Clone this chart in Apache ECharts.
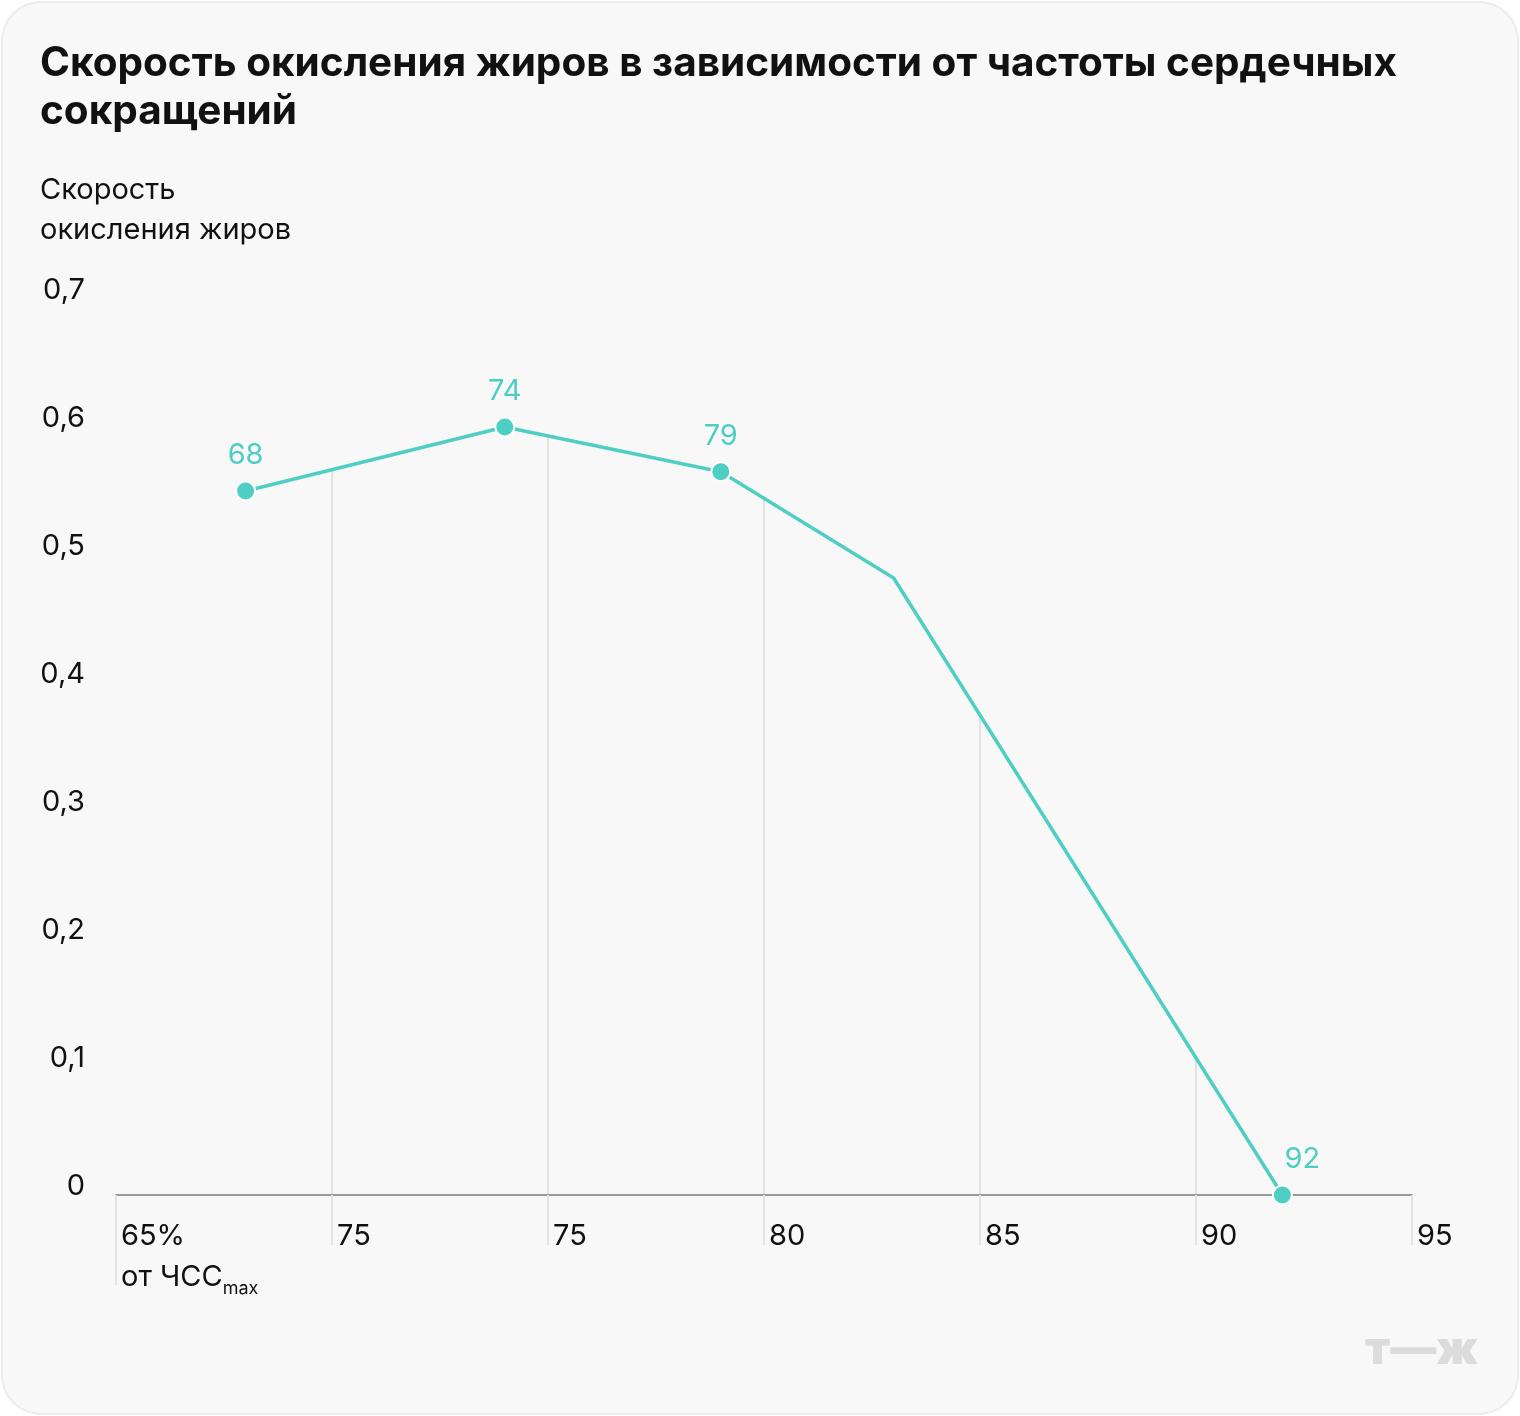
<!DOCTYPE html>
<html>
<head>
<meta charset="utf-8">
<script src="https://cdn.jsdelivr.net/npm/echarts@6/dist/echarts.min.js"></script>
<style>
  html, body { margin: 0; padding: 0; background: #ffffff; }
  #card {
    position: absolute; left: 1px; top: 1px; width: 1514px; height: 1410px;
    background: #f8f8f8; border: 2px solid #ececec; border-radius: 40px;
  }
  #chart { position: absolute; left: 0; top: 0; width: 1520px; height: 1416px; }
</style>
</head>
<body>
<div id="card"></div>
<div id="chart"></div>
<script>
// ---- data ----
const heartRate = [68, 74, 79, 83, 92];            // % of max heart rate
const fatOxidation = [0.55, 0.6, 0.565, 0.482, 0]; // fat oxidation rate
const pointMarked = [true, true, true, false, true];
const xTickLabels = ['65%', '75', '75', '80', '85', '90', '95'];
const xMin = 65, xMax = 95, xStep = 5;
const yMin = 0, yMax = 0.7, yStep = 0.1;
const titleText = 'Скорость окисления жиров в зависимости от частоты сердечных\nсокращений';
const yAxisTitle = 'Скорость\nокисления жиров';
const xAxisSubtitle = 'от ЧСС';
const xAxisSub = 'max';

const FONT = 'Inter, Roboto, "Noto Sans", sans-serif';
const TEAL = '#4fcec4';
const BG = '#f8f8f8';

const seriesData = heartRate.map((x, i) => {
  const item = { value: [x, fatOxidation[i]] };
  if (!pointMarked[i]) {
    item.symbol = 'none';
    item.label = { show: false };
  } else if (i === heartRate.length - 1) {
    item.label = { offset: [20, 0] };
  }
  return item;
});

const chart = echarts.init(document.getElementById('chart'), null, { renderer: 'canvas' });
chart.setOption({
  backgroundColor: 'transparent',
  animation: false,
  textStyle: { fontFamily: FONT },
  title: [
    {
      text: titleText, left: 40, top: 40, padding: 0,
      textStyle: { fontFamily: FONT, fontSize: 40.5, fontWeight: 'bold', color: '#111', lineHeight: 48 }
    },
    {
      text: yAxisTitle, left: 40, top: 170, padding: 0,
      textStyle: { fontFamily: FONT, fontSize: 29, fontWeight: 'normal', color: '#111', lineHeight: 40 }
    }
  ],
  grid: { left: 116, right: 108, top: 299, bottom: 221, containLabel: false },
  xAxis: [
    {
      type: 'value', min: xMin, max: xMax, interval: xStep,
      axisLine: { show: true, lineStyle: { color: '#999', width: 2 } },
      axisTick: { show: true, inside: false, length: 50, lineStyle: { color: '#e2e2e2', width: 2 } },
      splitLine: { show: true, showMinLine: false, showMaxLine: false, lineStyle: { color: '#e2e2e2', width: 2 } },
      axisLabel: {
        show: true, margin: 25, align: 'left', verticalAlign: 'top',
        padding: [0, 0, 0, 5],
        color: '#111', fontFamily: FONT, fontSize: 29, lineHeight: 32,
        showMinLabel: true, showMaxLabel: true,
        formatter: function (v) {
          const idx = Math.round((v - xMin) / xStep);
          const t = xTickLabels[idx];
          if (idx === 0) return t + '\n{s|' + xAxisSubtitle + '}{sub|' + xAxisSub + '}';
          return t;
        },
        rich: {
          s: { fontFamily: FONT, fontSize: 29, color: '#111', lineHeight: 40, verticalAlign: 'bottom' },
          sub: { fontFamily: FONT, fontSize: 18, color: '#111', lineHeight: 40, verticalAlign: 'bottom', padding: [0, 0, -6, 0] }
        }
      }
    },
    {
      type: 'value', min: xMin, max: xMax, interval: xStep, position: 'bottom',
      axisLine: { show: false },
      axisTick: { show: true, inside: false, length: 90, customValues: [xMin], lineStyle: { color: '#e2e2e2', width: 2 } },
      axisLabel: { show: false },
      splitLine: { show: false }
    }
  ],
  yAxis: {
    type: 'value', min: yMin, max: yMax, interval: yStep,
    axisLine: { show: false }, axisTick: { show: false }, splitLine: { show: false },
    axisLabel: {
      margin: 31, align: 'right', verticalAlign: 'bottom', lineHeight: 18,
      color: '#111', fontFamily: FONT, fontSize: 29,
      formatter: function (v) { return v === 0 ? '0' : v.toFixed(1).replace('.', ','); }
    }
  },
  series: [
    {
      type: 'line', xAxisIndex: 0, data: seriesData,
      symbol: 'circle', symbolSize: 19,
      itemStyle: { color: TEAL, borderColor: '#ffffff', borderWidth: 2 },
      lineStyle: { color: TEAL, width: 3.5 },
      areaStyle: { color: BG, opacity: 1, origin: 'end' },
      label: {
        show: true, position: 'top', distance: 11,
        color: TEAL, fontFamily: FONT, fontSize: 29,
        formatter: function (p) { return String(p.value[0]); }
      },
      z: 3
    }
  ],
  graphic: [
    {
      type: 'text', right: 42, top: 1327,
      style: { text: 'т—ж', fill: '#dcdcdc', font: '900 46px ' + FONT }
    }
  ]
});
</script>
</body>
</html>
